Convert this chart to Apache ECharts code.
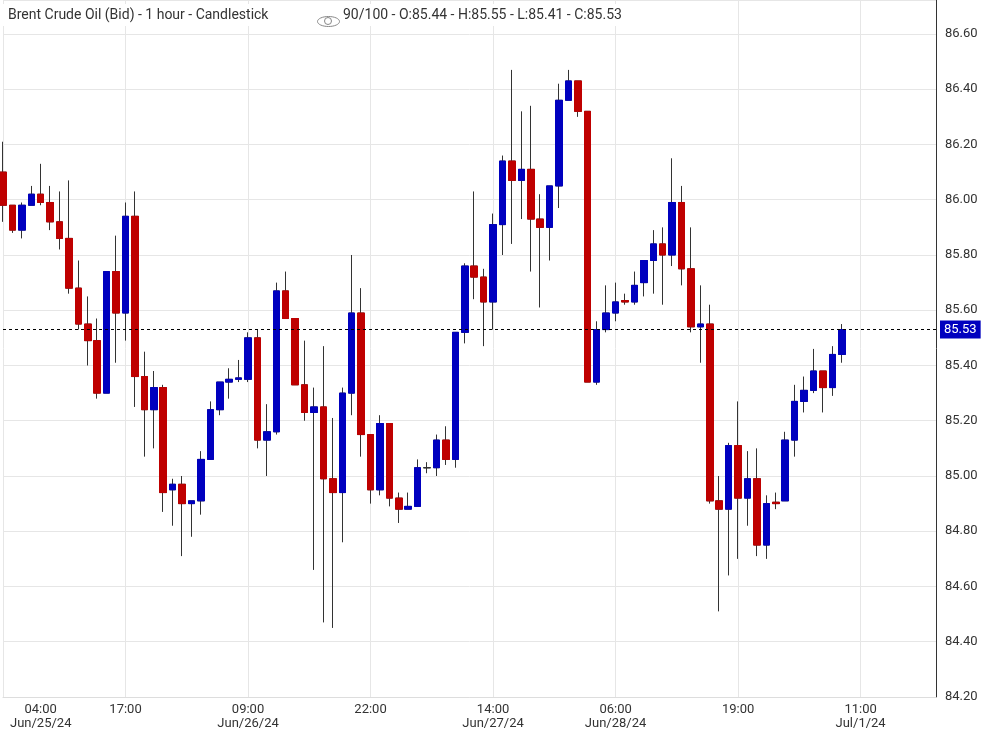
<!DOCTYPE html>
<html><head><meta charset="utf-8">
<script src="https://cdn.jsdelivr.net/npm/echarts@6/dist/echarts.min.js"></script>
<style>html,body{margin:0;padding:0;background:#fff}#c{width:988px;height:733px}</style>
</head><body><div id="c"></div>
<script>
var opens  = [86.10,85.98,85.89,85.98,86.02,85.99,85.92,85.86,85.68,85.55,85.49,85.30,85.74,85.59,85.94,85.36,85.24,85.32,84.95,84.97,84.90,84.91,85.06,85.24,85.34,85.35,85.35,85.50,85.13,85.16,85.67,85.57,85.33,85.23,85.25,84.99,84.94,85.30,85.59,85.15,84.95,85.19,84.92,84.88,84.89,85.03,85.03,85.13,85.06,85.52,85.76,85.72,85.63,85.91,86.14,86.07,86.11,85.93,85.90,86.05,86.36,86.43,86.32,85.34,85.53,85.59,85.635,85.63,85.70,85.78,85.84,85.80,85.99,85.75,85.54,85.55,84.91,84.88,85.11,84.92,84.99,84.75,84.905,84.91,85.13,85.27,85.31,85.38,85.32,85.44];
var closes = [85.98,85.89,85.98,86.02,85.99,85.92,85.86,85.68,85.55,85.49,85.30,85.74,85.59,85.94,85.36,85.24,85.32,84.94,84.97,84.90,84.91,85.06,85.24,85.34,85.35,85.355,85.50,85.13,85.16,85.67,85.57,85.33,85.23,85.25,84.99,84.94,85.30,85.59,85.15,84.95,85.19,84.92,84.88,84.89,85.03,85.03,85.13,85.06,85.52,85.76,85.72,85.63,85.91,86.14,86.07,86.11,85.93,85.90,86.05,86.36,86.43,86.32,85.34,85.53,85.59,85.63,85.63,85.69,85.78,85.84,85.80,85.99,85.75,85.54,85.55,84.91,84.88,85.11,84.92,84.99,84.75,84.90,84.90,85.13,85.27,85.31,85.38,85.32,85.44,85.53];
var highs  = [86.21,85.98,85.99,86.05,86.13,86.05,86.03,86.07,85.78,85.65,85.57,85.74,85.87,85.99,86.03,85.45,85.38,85.33,84.99,85.00,84.91,85.09,85.27,85.34,85.39,85.42,85.52,85.53,85.26,85.70,85.74,85.57,85.49,85.32,85.47,85.21,85.32,85.80,85.68,85.15,85.22,85.19,84.94,84.94,85.06,85.05,85.15,85.18,85.52,85.77,86.03,85.75,85.95,86.16,86.47,86.32,86.34,86.02,86.05,86.42,86.47,86.43,86.32,85.56,85.69,85.70,85.66,85.74,85.78,85.89,85.90,86.15,86.05,85.90,85.69,85.62,85.00,85.12,85.27,85.09,85.10,84.93,84.94,85.16,85.33,85.36,85.46,85.38,85.47,85.55];
var lows   = [85.92,85.88,85.86,85.98,85.98,85.89,85.82,85.66,85.53,85.40,85.28,85.30,85.41,85.49,85.25,85.07,85.10,84.87,84.82,84.71,84.78,84.86,85.06,85.22,85.28,85.34,85.34,85.10,85.00,85.15,85.57,85.33,85.20,84.66,84.47,84.45,84.76,85.22,85.07,84.90,84.93,84.89,84.83,84.88,84.89,85.01,85.00,85.04,85.03,85.48,85.64,85.47,85.53,85.80,85.84,85.93,85.74,85.61,85.78,85.97,86.36,86.30,85.34,85.33,85.52,85.56,85.62,85.62,85.65,85.66,85.62,85.76,85.69,85.52,85.41,84.90,84.51,84.64,84.70,84.82,84.71,84.70,84.88,84.91,85.07,85.23,85.30,85.23,85.29,85.41];
var slotCount = 100;
var xTickIdx  = [4, 13, 26, 39, 52, 65, 78, 91];
var xTickTime = ['04:00','17:00','09:00','22:00','14:00','06:00','19:00','11:00'];
var xTickDate = ['Jun/25/24','','Jun/26/24','','Jun/27/24','Jun/28/24','','Jul/1/24'];
var gridIdx = [0, 13, 26, 39, 52, 65, 78, 91];
var lastPrice = 85.53;

var cats = [];
for (var i = 0; i < slotCount; i++) cats.push(String(i));
var wickData = [], bodyData = [];
for (var i = 0; i < opens.length; i++) {
  wickData.push([opens[i], closes[i], lows[i], highs[i]]);
  bodyData.push([opens[i], closes[i], Math.min(opens[i], closes[i]), Math.max(opens[i], closes[i])]);
}
var chart = echarts.init(document.getElementById('c'));
chart.setOption({
  animation: false,
  backgroundColor: '#fff',
  grid: {left: 3, right: 52, top: 0, bottom: 36},
  xAxis: {
    type: 'category', data: cats, boundaryGap: false,
    axisLine: {show: true, lineStyle: {color: '#ddd'}},
    axisTick: {show: false},
    splitLine: {show: true, interval: function(i){return gridIdx.indexOf(i) >= 0;}, lineStyle: {color: '#e6e6e6'}},
    axisLabel: {
      interval: function(i){return xTickIdx.indexOf(i) >= 0;},
      formatter: function(v, i){var k = xTickIdx.indexOf(i); return k < 0 ? '' : xTickTime[k] + '\n' + xTickDate[k];},
      color: '#333', fontFamily: 'Roboto', fontSize: 13, lineHeight: 14, margin: 6
    }
  },
  yAxis: {
    type: 'value', position: 'right', min: 84.2, max: 86.723, interval: 0.2, scale: true,
    axisLine: {show: true, lineStyle: {color: '#333'}},
    axisTick: {show: false},
    splitLine: {lineStyle: {color: '#e6e6e6'}},
    axisLabel: {formatter: function(v){return v.toFixed(2);}, color: '#333', fontFamily: 'Roboto', fontSize: 13, margin: 9,
      showMaxLabel: false}
  },
  series: [
    {type: 'candlestick', data: wickData, barWidth: 7,
     itemStyle: {color: '#333', color0: '#333', borderColor: '#333', borderColor0: '#333', borderColorDoji: '#333', borderWidth: 1}},
    {type: 'candlestick', data: bodyData, barWidth: 7,
     itemStyle: {color: '#0000bf', color0: '#bf0000', borderColor: '#0000bf', borderColor0: '#bf0000', borderColorDoji: '#333', borderWidth: 1},
     markLine: {silent: true, symbol: 'none',
       lineStyle: {color: '#000', type: [3, 3], width: 1},
       label: {position: 'end', formatter: lastPrice.toFixed(2), color: '#fff', backgroundColor: '#0000bf',
         padding: [3, 4, 2, 4], fontFamily: 'Roboto', fontSize: 13, distance: 4},
       data: [{yAxis: lastPrice}]}}
  ],
  graphic: [
    {type: 'rect', left: 0, top: 4, shape: {width: 652, height: 22}, style: {fill: '#fff'}, z: 10},
    {type: 'text', left: 8, top: 8, z: 11, style: {text: 'Brent Crude Oil (Bid) - 1 hour - Candlestick', fill: '#333', font: '14px Roboto'}},
    {type: 'ellipse', left: 315, top: 14, z: 11, shape: {cx: 11, cy: 5, rx: 11, ry: 5}, style: {fill: 'none', stroke: '#888', lineWidth: 1}},
    {type: 'circle', left: 322, top: 15, z: 11, shape: {cx: 4, cy: 4, r: 3.5}, style: {fill: 'none', stroke: '#888', lineWidth: 1}},
    {type: 'text', left: 343, top: 8, z: 11, style: {text: '90/100 - O:85.44 - H:85.55 - L:85.41 - C:85.53', fill: '#333', font: '14px Roboto'}}
  ]
});
</script></body></html>
